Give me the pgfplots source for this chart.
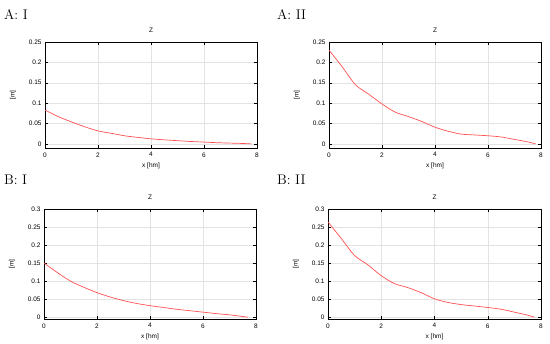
\documentclass[border=0pt]{standalone}
\usepackage{fontspec}
\usepackage{pgfplots}
\pgfplotsset{compat=1.18}
\newfontfamily\axfont{Liberation Sans}
\definecolor{curve}{RGB}{255,80,80}
\pgfplotsset{
  panel/.style={
    scale only axis,
    xmin=0, xmax=8,
    xtick={0,2,4,6,8},
    tick align=inside,
    xtick pos=both, ytick pos=both,
    major tick length=3bp,
    grid=major,
    major grid style={draw=gray!22, line width=0.5bp},
    axis line style={black, line width=0.6bp},
    tick style={black, line width=0.5bp},
    /pgf/number format/assume math mode=true,
    tick label style={font=\axfont\fontsize{6.5}{7}\selectfont},
    label style={font=\axfont\fontsize{6.5}{7}\selectfont},
    title style={font=\axfont\fontsize{6.5}{7}\selectfont, yshift=0bp},
    title={Z},
    xlabel={x [hm]},
    ylabel={[m]},
    xlabel style={yshift=1bp},
    ylabel style={yshift=6bp},
    xticklabel style={yshift=-1bp},
  },
  paneA/.style={ymin=-0.01, ymax=0.25, ytick={0,0.05,0.1,0.15,0.2,0.25}, yticklabels={0,0.05,0.1,0.15,0.2,0.25}},
  paneB/.style={ymin=-0.005, ymax=0.3, ytick={0,0.05,0.1,0.15,0.2,0.25,0.3}, yticklabels={0,0.05,0.1,0.15,0.2,0.25,0.3}},
}
\begin{document}
\begin{tikzpicture}
\useasboundingbox (0bp,0bp) rectangle (550bp,344bp);
\node[anchor=base west, font=\fontsize{14}{16}\selectfont, inner sep=0] at (4bp,324bp) {A: I};
\node[anchor=base west, font=\fontsize{14}{16}\selectfont, inner sep=0] at (277bp,324bp) {A: II};
\node[anchor=base west, font=\fontsize{14}{16}\selectfont, inner sep=0] at (4bp,159bp) {B: I};
\node[anchor=base west, font=\fontsize{14}{16}\selectfont, inner sep=0] at (277bp,159bp) {B: II};

\begin{axis}[panel, paneA, at={(45bp,196bp)}, anchor=south west, width=212bp, height=106bp]
\addplot[curve, line width=0.7bp, smooth] coordinates {
(0,0.083) (0.5,0.067) (1,0.054) (1.5,0.042) (2,0.032) (2.5,0.026) (3,0.020) (3.5,0.016) (4,0.0125) (4.5,0.010) (5,0.008) (5.5,0.006) (6,0.0045) (6.5,0.003) (7,0.002) (7.5,0.001) (7.8,0)};
\end{axis}

\begin{axis}[panel, paneA, at={(329bp,196bp)}, anchor=south west, width=212bp, height=106bp]
\addplot[curve, line width=0.7bp, smooth] coordinates {
(0,0.23) (0.5,0.189) (1,0.145) (1.5,0.122) (2,0.098) (2.5,0.078) (3,0.067) (3.5,0.055) (4,0.041) (4.5,0.031) (5,0.024) (5.5,0.022) (6,0.020) (6.5,0.017) (7,0.011) (7.5,0.005) (7.8,0)};
\end{axis}

\begin{axis}[panel, paneB, at={(44bp,25bp)}, anchor=south west, width=212bp, height=110bp]
\addplot[curve, line width=0.7bp, smooth] coordinates {
(0,0.15) (0.5,0.124) (1,0.100) (1.5,0.083) (2,0.068) (2.5,0.056) (3,0.046) (3.5,0.038) (4,0.032) (4.5,0.027) (5,0.022) (5.5,0.018) (6,0.014) (6.5,0.010) (7,0.0065) (7.5,0.002) (7.7,0)};
\end{axis}

\begin{axis}[panel, paneB, at={(328bp,25bp)}, anchor=south west, width=213bp, height=110bp]
\addplot[curve, line width=0.7bp, smooth] coordinates {
(0,0.264) (0.5,0.218) (1,0.171) (1.5,0.145) (2,0.115) (2.5,0.093) (3,0.082) (3.5,0.068) (4,0.051) (4.5,0.041) (5,0.035) (5.5,0.031) (6,0.027) (6.5,0.022) (7,0.014) (7.5,0.0056) (7.75,0)};
\end{axis}
\end{tikzpicture}
\end{document}
